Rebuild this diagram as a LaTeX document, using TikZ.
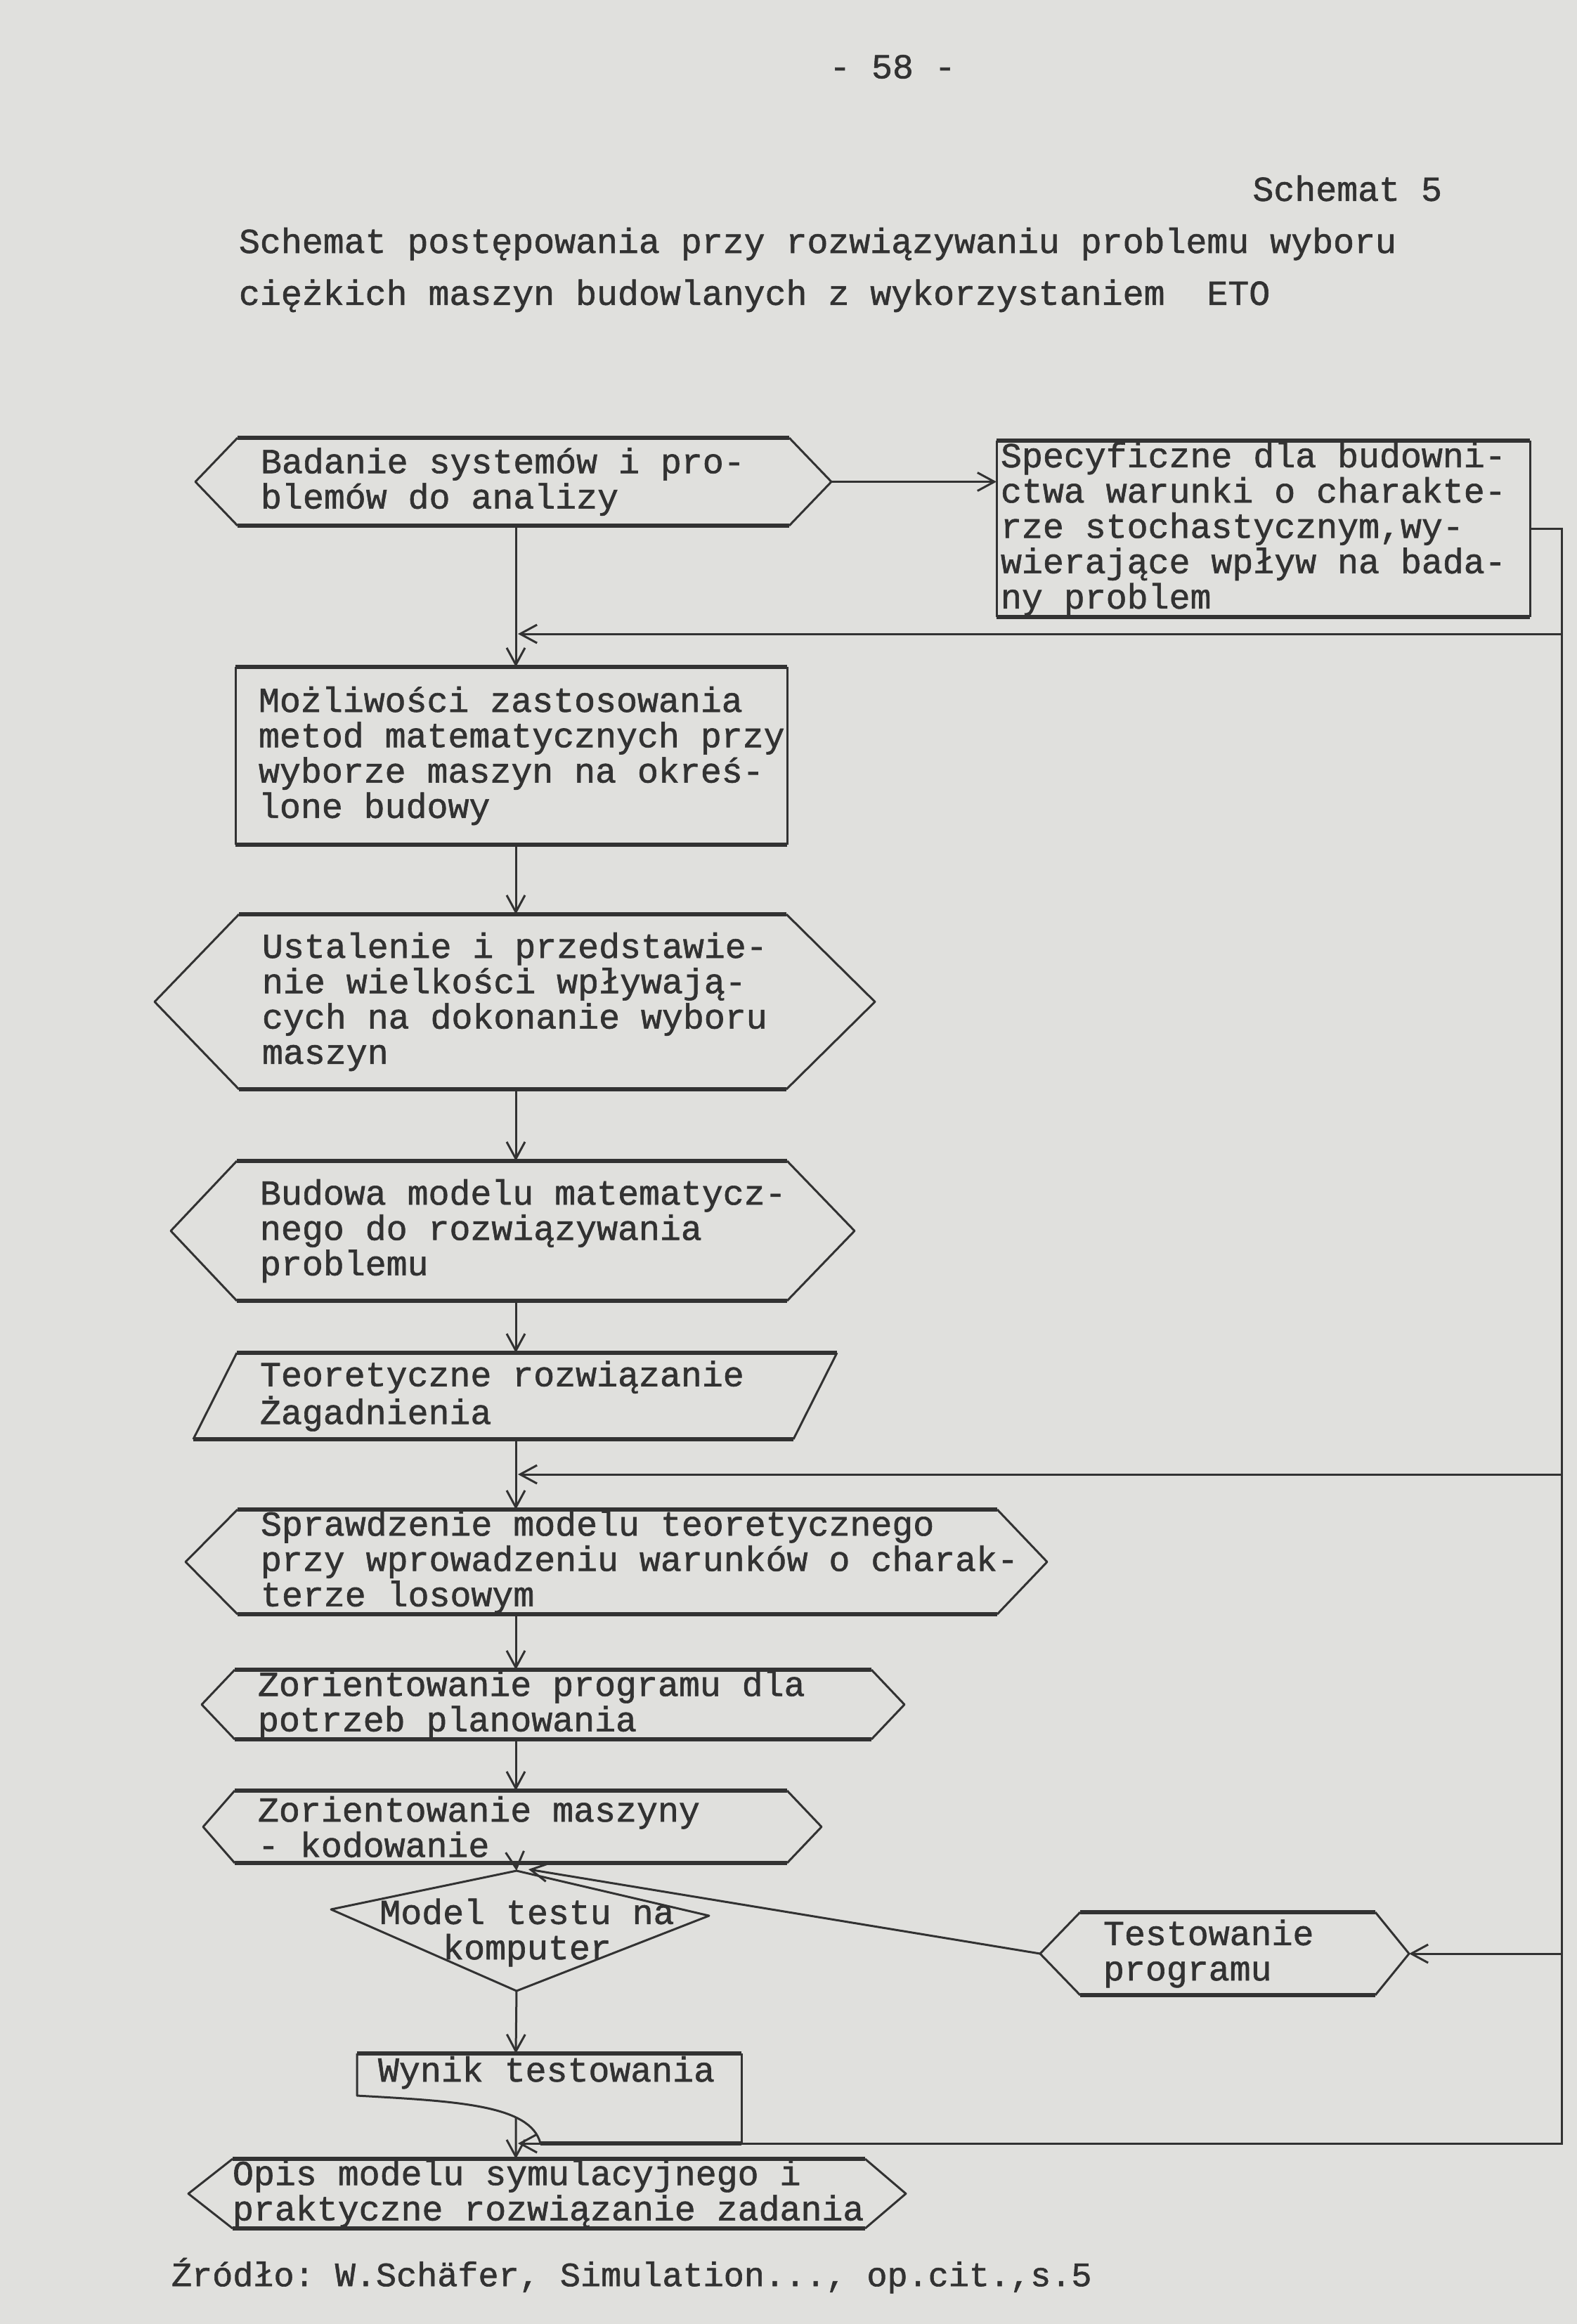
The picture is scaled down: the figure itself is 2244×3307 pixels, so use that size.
\documentclass[tikz,border=0pt]{standalone}
\usepackage{fontspec}
\setmainfont{Liberation Mono}[FakeBold=1.2]
\usetikzlibrary{arrows.meta,calc}

\definecolor{paper}{RGB}{224,224,221}
\definecolor{ink}{RGB}{50,50,50}

% frames: typed top and bottom rules, pen-drawn sides
\newcommand\hexoutline[3]{%
  \draw[penline] (#1.north west) -- ($(#1.west)+(-#2,0)$) coordinate (#1-l) -- (#1.south west);
  \draw[penline] (#1.north east) -- ($(#1.east)+(#3,0)$) coordinate (#1-r) -- (#1.south east);
  \draw[typed] (#1.north west) -- (#1.north east) (#1.south west) -- (#1.south east);}
\newcommand\rectoutline[1]{%
  \draw[penline] (#1.north west) -- (#1.south west) (#1.north east) -- (#1.south east);
  \draw[typed] (#1.north west) -- (#1.north east) (#1.south west) -- (#1.south east);}
\newcommand\slantoutline[2]{%
  \draw[penline] ($(#1.north west)+(#2,0)$) -- ($(#1.south west)+(-#2,0)$)
    ($(#1.north east)+(#2,0)$) -- ($(#1.south east)+(-#2,0)$);
  \draw[typed] ($(#1.north west)+(#2,0)$) -- ($(#1.north east)+(#2,0)$)
    ($(#1.south west)+(-#2,0)$) -- ($(#1.south east)+(-#2,0)$);}

\begin{document}
\begin{tikzpicture}[
  x=0.1mm, y=-0.1mm,
  font=\fontsize{14.2pt}{14.3pt}\selectfont\frenchspacing,
  >={Straight Barb[length=2.4mm,width=2.6mm]},
  typed/.style={draw=ink, line width=0.55mm},
  penline/.style={draw=ink, line width=0.3mm, line join=round},
  flow/.style={draw=ink, line width=0.3mm},
  txt/.style={text=ink, inner sep=0pt, outer sep=0pt,
    execute at begin node={\spaceskip=0pt\xspaceskip=0pt}},
  box/.style={txt, align=flush left, inner xsep=3.3mm, minimum height=#1}
]
\fill[paper] (0,0) rectangle (2244,3307);

% page head
\node[txt] (pnum) at (1270,95) {- 58 -};
\node[txt, anchor=east] (snum) at (2052,268) {Schemat 5};
\node[txt, align=left, anchor=west, font=\fontsize{14.2pt}{21pt}\selectfont\frenchspacing] (title) at (340,384)
  {Schemat postępowania przy rozwiązywaniu problemu wyboru\\ciężkich maszyn budowlanych z wykorzystaniem~~ETO};

% boxes
\node[box=12.5mm, text width=71.9mm] (bad) at (730.5,685.5) {Badanie systemów i pro-\\blemów do analizy};
\node[box=25.1mm, inner xsep=0.6mm, text width=74.7mm] (spec) at (1797.5,752.5)
  {Specyficzne dla budowni-\\ctwa warunki o charakte-\\rze stochastycznym,wy-\\wierające wpływ na bada-\\ny problem};
\node[box=25.3mm, text width=71.9mm] (mozl) at (727.5,1075.5)
  {Możliwości zastosowania\\\mbox{metod matematycznych przy}\\\mbox{wyborze maszyn na okreś-}\\lone budowy};
\node[box=24.9mm, text width=71.3mm] (ust) at (729.5,1425.5)
  {\mbox{Ustalenie i przedstawie-}\\nie wielkości wpływają-\\\mbox{cych na dokonanie wyboru}\\maszyn};
\node[box=19.9mm, text width=71.7mm] (bud) at (728.5,1751.5)
  {\mbox{Budowa modelu matematycz-}\\nego do rozwiązywania\\problemu};
\node[box=12.3mm, inner xsep=6.4mm, text width=72.6mm] (teo) at (733,1986.5)
  {Teoretyczne rozwiązanie\\Żagadnienia};
\node[box=14.9mm, text width=101.5mm] (spr) at (878.5,2222.5)
  {Sprawdzenie modelu teoretycznego\\\mbox{przy wprowadzeniu warunków o charak-}\\terze losowym};
\node[box=9.9mm, text width=84mm] (zorp) at (787,2425.5) {Zorientowanie programu dla\\potrzeb planowania};
\node[box=10.3mm, text width=72mm] (zorm) at (727,2599.5) {Zorientowanie maszyny\\- kodowanie};
\node[txt, align=center] (model) at (750,2750) {Model testu na\\komputer};
\node[box=11.8mm, text width=35.4mm] (test) at (1747,2780) {Testowanie\\programu};
\node[txt, align=flush left, inner xsep=3mm, text width=48.7mm, text height=4mm, text depth=8.8mm] (wynik) at (781.5,2986)
  {\mbox{Wynik testowania}};
\node[box=9.9mm, inner xsep=0pt, text width=90mm] (opis) at (781,3121.5)
  {Opis modelu symulacyjnego i\\\mbox{praktyczne rozwiązanie zadania}};
\node[txt, anchor=west, font=\fontsize{13.8pt}{14pt}\selectfont\frenchspacing] (src) at (244,3238)
  {Źródło: W.Schäfer, Simulation..., op.cit.,s.5};

% frames
\hexoutline{bad}{60}{60}
\rectoutline{spec}
\rectoutline{mozl}
\hexoutline{ust}{120}{126}
\hexoutline{bud}{94}{96}
\slantoutline{teo}{31}
\hexoutline{spr}{74}{71}
\hexoutline{zorp}{47}{47}
\hexoutline{zorm}{45}{49}
\hexoutline{test}{57}{48}
\hexoutline{opis}{63}{58}
\draw[penline] ($(model)+(-15,-88)$) coordinate (model-t) -- ($(model)+(259,-24)$)
  -- ($(model)+(-15,83)$) coordinate (model-b) -- ($(model)+(-279,-33)$) -- cycle;
\draw[typed] (wynik.north west) -- (wynik.north east);
\draw[penline] (wynik.north east) -- (wynik.south east);
\draw[typed] (wynik.south east) -- ($(wynik.south west)+(261,0)$);
\draw[penline] ($(wynik.south west)+(261,0)$) .. controls ($(wynik.south west)+(247,-55)$) and ($(wynik.south west)+(142,-60)$) .. ($(wynik.south west)+(0,-68)$) -- (wynik.north west);

% connectors
\coordinate (ax) at (734,0);
\coordinate (bus) at (2222,760);
\coordinate (fb1) at (737,902);
\coordinate (fb2) at (737,2098);
\coordinate (ret) at (737,3050);
\coordinate (tin) at ($(zorm.south -| ax)+(18,9)$);
\coordinate (wynik-o) at ($(wynik.south west)+(226,-37)$);
\draw[flow,->] (bad.south -| ax) -- (mozl.north -| ax);
\draw[flow,->] (mozl.south -| ax) -- (ust.north -| ax);
\draw[flow,->] (ust.south -| ax) -- (bud.north -| ax);
\draw[flow,->] (bud.south -| ax) -- (teo.north -| ax);
\draw[flow,->] (teo.south -| ax) -- (spr.north -| ax);
\draw[flow,->] (spr.south -| ax) -- (zorp.north -| ax);
\draw[flow,->] (zorp.south -| ax) -- (zorm.north -| ax);
\draw[flow,->] (zorm.south -| ax) -- (model-t);
\draw[flow,->] (model-b) -- (wynik.north -| ax);
\draw[flow,->] (wynik-o) -- (opis.north -| ax);
\draw[flow,->] (bad-r) -- (bad-r -| spec.west);
\draw[flow,->] (spec.east) -| (bus |- ret) -- (ret);
\draw[flow,->] (bus |- fb1) -- (fb1);
\draw[flow,->] (bus |- fb2) -- (fb2);
\draw[flow,->] (bus |- test-r) -- (test-r);
\draw[flow,->] (test-l) -- (tin);
\end{tikzpicture}
\end{document}
